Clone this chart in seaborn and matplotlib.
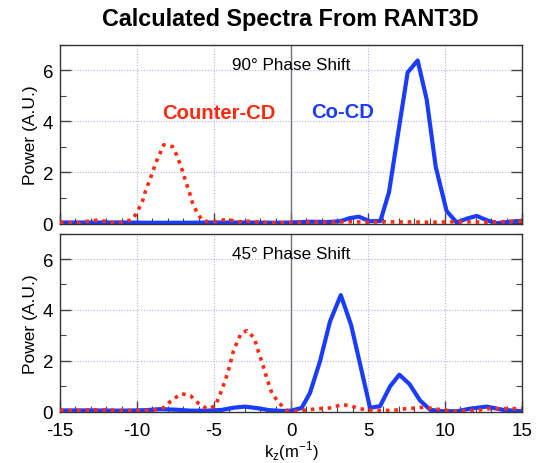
import numpy as np
import matplotlib
matplotlib.use("Agg")
import matplotlib.pyplot as plt
import seaborn as sns
import pandas as pd
from matplotlib.ticker import MultipleLocator

sns.set_theme(style="white")
plt.rcParams['font.family'] = ['Liberation Sans', 'DejaVu Sans']
plt.rcParams['axes.unicode_minus'] = False
plt.rcParams['text.color'] = 'black'
plt.rcParams['axes.labelcolor'] = 'black'
plt.rcParams['xtick.labelcolor'] = 'black'
plt.rcParams['ytick.labelcolor'] = 'black'

# ---- data: 90 deg phase shift ----
k90_co = [-15, -13, -11, -9, -7, -5, -3, -1, 0, 1.2, 2.4, 3.2, 3.8, 4.4, 5.1, 5.8,
          6.36, 6.97, 7.57, 8.22, 8.81, 9.39, 10.1, 10.76, 11.4, 12.05, 12.7, 13.36, 14.2, 15]
p90_co = [0.03, 0.03, 0.03, 0.02, 0.02, 0.03, 0.03, 0.02, 0.03, 0.06, 0.05, 0.08, 0.2, 0.26, 0.08, 0.09,
          1.22, 3.6, 5.92, 6.39, 4.85, 2.23, 0.48, 0.03, 0.18, 0.29, 0.12, 0.0, 0.06, 0.1]

k90_counter = [-15, -14.4, -13.8, -13.2, -12.6, -12.0, -11.4, -10.8, -10.25, -9.9, -9.64, -9.45, -9.23,
               -9.0, -8.8, -8.53, -8.27, -7.7, -7.43, -7.2, -7.0, -6.82, -6.6, -6.43, -6.15, -5.8,
               -5.2, -4.6, -4.0, -3.45, -2.8, -2.0, -1.0, 0, 1, 2, 3, 4, 5, 6, 7, 8, 9, 10, 11, 12, 13, 14, 15]
p90_counter = [0.03, 0.02, 0.01, 0.08, 0.12, 0.07, 0.02, 0.04, 0.18, 0.55, 0.88, 1.27, 1.61,
               1.98, 2.35, 2.71, 3.08, 3.01, 2.68, 2.32, 1.96, 1.6, 1.22, 0.85, 0.48, 0.13,
               0.03, 0.13, 0.13, 0.05, 0.08, 0.04, 0.02, 0.03, 0.05, 0.04, 0.05, 0.06, 0.04, 0.06, 0.05, 0.05, 0.04, 0.05, 0.06, 0.05, 0.04, 0.07, 0.08]

# ---- data: 45 deg phase shift ----
k45_co = [-15, -13, -11, -9.5, -8.5, -7.5, -6.5, -5.5, -4.5, -3.7, -2.99, -2.2, -1.4, -0.6, 0,
          0.69, 1.23, 1.88, 2.53, 3.23, 3.9, 4.44, 5.13, 5.78, 6.43, 7.03, 7.69, 8.38, 9.03, 9.7,
          10.8, 11.62, 12.7, 13.8, 15]
p45_co = [0.03, 0.03, 0.02, 0.04, 0.08, 0.06, 0.02, 0.02, 0.05, 0.14, 0.18, 0.12, 0.04, 0.01, 0.02,
          0.13, 0.72, 1.97, 3.54, 4.58, 3.4, 1.97, 0.13, 0.2, 0.98, 1.44, 1.07, 0.42, 0.06, 0.0,
          0.0, 0.1, 0.18, 0.05, 0.0]

k45_counter = [-15, -14, -13, -12, -11, -10, -9, -8.29, -7.7, -7.1, -6.53, -5.99, -5.45, -4.94, -4.68,
               -4.44, -4.24, -4.05, -3.9, -3.74, -3.5, -3.25, -2.86, -2.38, -2.21, -2.01, -1.82, -1.64,
               -1.45, -1.25, -0.82, -0.28, 0.3, 1.0, 1.8, 2.64, 3.25, 3.83, 4.43, 5.0, 5.8, 6.6, 7.49,
               8.05, 8.6, 9.2, 9.9, 10.6, 11.4, 12.27, 12.9, 13.46, 14.2, 15]
p45_counter = [0.03, 0.02, 0.06, 0.05, 0.03, 0.02, 0.04, 0.13, 0.46, 0.69, 0.61, 0.3, 0.09, 0.2, 0.55,
               0.94, 1.28, 1.65, 2.0, 2.38, 2.72, 3.07, 3.18, 2.88, 2.51, 2.16, 1.8, 1.44,
               1.08, 0.72, 0.35, 0.03, 0.0, 0.05, 0.1, 0.13, 0.26, 0.22, 0.1, 0.05, 0.03, 0.03, 0.1,
               0.12, 0.16, 0.1, 0.05, 0.0, 0.01, 0.05, 0.1, 0.1, 0.1, 0.1]

titles = ["90° Phase Shift", "45° Phase Shift"]

BLUE = "#1a3cff"
RED = "#ff2a10"
GRID = "#aab4ff"

fig = plt.figure(figsize=(5.36, 4.64), dpi=100)
ax1 = fig.add_axes([0.112, 0.515, 0.862, 0.386])
ax2 = fig.add_axes([0.112, 0.110, 0.862, 0.384])

panels = [
    (ax1, k90_co, p90_co, k90_counter, p90_counter, titles[0]),
    (ax2, k45_co, p45_co, k45_counter, p45_counter, titles[1]),
]

for ax, kc, pc, kr, pr, ttl in panels:
    ax.set_xlim(-15, 15)
    ax.set_ylim(-0.03, 7.0)
    for xv in [-10, -5, 5, 10]:
        ax.axvline(xv, color=GRID, lw=0.8, ls=(0, (1, 1.5)), zorder=0)
    for yv in [2, 4, 6]:
        ax.axhline(yv, color=GRID, lw=0.8, ls=(0, (1, 1.5)), zorder=0)
    ax.axvline(0, color="#707070", lw=1.0, zorder=1)
    dfc = pd.DataFrame({"k": kc, "p": pc})
    dfr = pd.DataFrame({"k": kr, "p": pr})
    sns.lineplot(data=dfr, x="k", y="p", ax=ax, color=RED, lw=2.6,
                 linestyle=(0, (1.0, 1.35)), sort=False, zorder=3, estimator=None)
    sns.lineplot(data=dfc, x="k", y="p", ax=ax, color=BLUE, lw=3.0,
                 sort=False, zorder=2, estimator=None)
    ax.set_xlabel("")
    ax.set_ylabel("Power (A.U.)", fontsize=12.5, labelpad=3)
    ax.yaxis.set_major_locator(MultipleLocator(2))
    ax.yaxis.set_minor_locator(MultipleLocator(1))
    ax.xaxis.set_major_locator(MultipleLocator(5))
    ax.xaxis.set_minor_locator(MultipleLocator(1))
    ax.tick_params(which="both", direction="in", left=True, right=True, bottom=True, top=False,
                   color="#444444", labelsize=13.5)
    ax.tick_params(which="major", length=8, width=1.0)
    ax.tick_params(which="minor", length=4, width=0.8)
    ax.tick_params(axis="x", pad=7)
    ax.tick_params(axis="y", pad=5)
    for sp in ax.spines.values():
        sp.set_color("#333333")
        sp.set_linewidth(1.0)
    ax.text(0, 6.22, ttl, ha="center", va="center", fontsize=12.3, color="black")

ax1.tick_params(labelbottom=False)
ax1.text(-4.7, 4.36, "Counter-CD", ha="center", va="center", fontsize=14.6,
         fontweight="bold", color=RED)
ax1.text(3.35, 4.39, "Co-CD", ha="center", va="center", fontsize=14.6,
         fontweight="bold", color=BLUE)
ax2.set_xlabel(r"k$_\mathregular{z}$(m$^\mathregular{-1}$)", fontsize=12, labelpad=0)

fig.text(0.542, 0.958, "Calculated Spectra From RANT3D", ha="center", va="center",
         fontsize=16.8, fontweight="bold", color="black")

fig.savefig("out.png", dpi=100, facecolor="white")
